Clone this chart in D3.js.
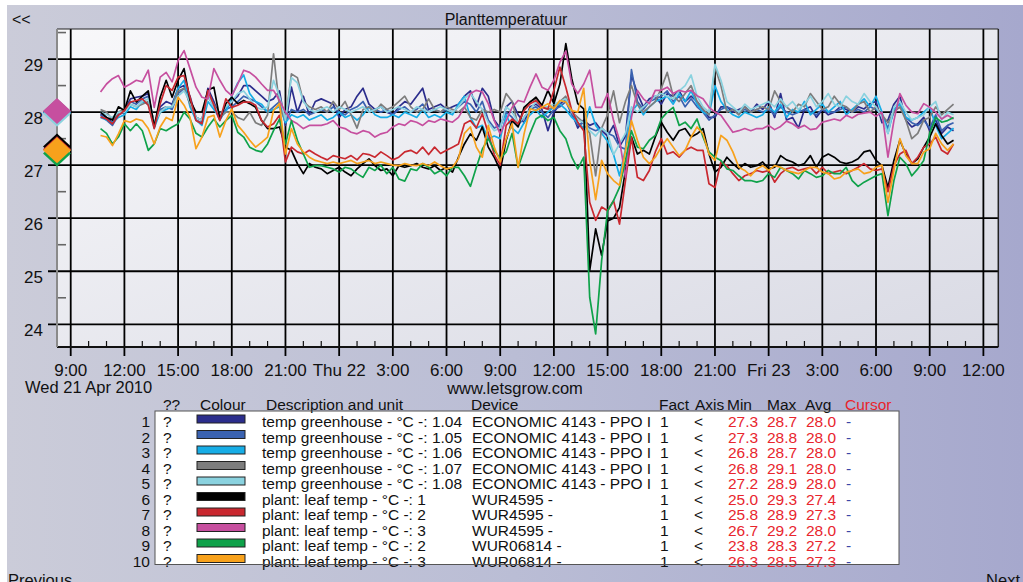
<!DOCTYPE html>
<html><head><meta charset="utf-8">
<script src="https://cdn.jsdelivr.net/npm/d3@7"></script>
<style>
html,body{margin:0;padding:0;background:#fff;overflow:hidden}
svg text{font-family:"Liberation Sans",Arial,Helvetica,sans-serif}
</style>
</head><body>
<svg id="c" width="1023" height="582"></svg>
<script>
// ---------- DATA ----------
const chartTitle = "Planttemperatuur";
const siteLabel = "www.letsgrow.com";
const dateLabel = "Wed 21 Apr 2010";
const startTime = new Date(2010, 3, 21, 10, 40); // first sample
const stepMinutes = 20;                           // sample spacing
const xDomain = [new Date(2010, 3, 21, 8, 14), new Date(2010, 3, 23, 12, 50)];
const yDomain = [23.572, 29.567];
const yTicks = [24, 25, 26, 27, 28, 29];
const yMinorTicks = [24.5, 25.5, 26.5, 27.5, 28.5, 29.5];
const xTickLabels = ["9:00","12:00","15:00","18:00","21:00","Thu 22","3:00","6:00","9:00","12:00","15:00","18:00","21:00","Fri 23","3:00","6:00","9:00","12:00"];

const seriesColors = ["#2b2d8c","#3a62b0","#17ade6","#7d7d7d","#8ad2df","#000000","#c9282f","#c64f9f","#0fa24a","#f7a11c"];
const seriesDesc = ["temp greenhouse - °C -: 1.04","temp greenhouse - °C -: 1.05","temp greenhouse - °C -: 1.06","temp greenhouse - °C -: 1.07","temp greenhouse - °C -: 1.08","plant: leaf temp - °C -: 1","plant: leaf temp - °C -: 2","plant: leaf temp - °C -: 3","plant: leaf temp - °C -: 2","plant: leaf temp - °C -: 3"];
const seriesDevice = ["ECONOMIC 4143 - PPO I","ECONOMIC 4143 - PPO I","ECONOMIC 4143 - PPO I","ECONOMIC 4143 - PPO I","ECONOMIC 4143 - PPO I","WUR4595 -","WUR4595 -","WUR4595 -","WUR06814 -","WUR06814 -"];
const seriesFact = [1,1,1,1,1,1,1,1,1,1];
const minVals = [27.3,27.3,26.8,26.8,27.2,25.0,25.8,26.7,23.8,26.3];
const maxVals = [28.7,28.8,28.7,29.1,28.9,29.3,28.9,29.2,28.3,28.5];
const avgVals = [28.0,28.0,28.0,28.0,28.0,27.4,27.3,28.0,27.2,27.3];
const avgMarkers = [28.0,28.0,27.99,28.01,27.97,27.35,27.3,28.02,27.22,27.28];

const s1 = [27.97,27.9,27.8,28.0,28.03,28.25,28.28,28.3,28.35,27.75,28.1,28.2,28.15,28.45,28.5,28.3,27.9,27.85,28.45,28.2,27.9,28.05,28.2,28.3,28.5,28.5,28.4,28.3,28.2,28.25,28.4,27.75,28.47,28.0,28.3,27.95,28.2,
28.25,28.2,28.15,27.9,28.05,28.1,28.3,28.45,28.15,28.05,28.1,28.0,27.95,28.1,28.2,28.15,28.3,28.45,28.05,28.1,28.15,28.05,28.1,28.15,28.3,28.4,28.1,28.45,28.3,27.85,27.7,28.1,28.2,27.95,27.8,28.1,28.15,28.05,
27.65,28.0,28.15,28.25,28.0,27.7,27.85,27.75,27.8,27.65,27.55,27.75,27.35,27.55,28.7,28.35,28.1,28.25,28.3,28.15,28.35,28.3,28.4,28.2,28.3,28.2,28.05,27.9,27.9,28.1,28.1,28.0,28.05,28.1,28.0,28.15,
28.05,28.2,27.9,28.35,27.85,27.9,27.7,28.05,28.1,27.9,28.05,27.95,28.0,28.1,28.05,28.0,28.1,28.06,28.16,28.2,27.8,27.85,28.15,28.3,27.85,27.72,27.78,27.9,27.65,27.85,27.6,27.72,27.65];
const s2 = [27.95,27.85,27.75,27.95,28.0,28.2,28.15,28.25,28.3,27.75,28.05,28.1,28.05,28.35,28.45,28.2,27.85,27.8,28.3,28.1,27.85,28.05,28.1,28.2,28.3,28.25,28.2,28.1,28.0,28.1,28.2,27.8,28.05,28.0,28.05,27.95,28.0,
28.05,28.0,28.1,28.0,27.95,28.05,28.1,28.2,28.0,28.05,28.0,28.05,27.95,28.05,28.1,28.0,28.05,28.15,28.0,28.05,28.0,28.05,28.0,28.1,28.2,28.15,28.0,28.2,27.85,27.7,27.75,28.0,27.9,27.75,27.9,28.05,28.1,28.0,
27.9,28.05,28.1,28.2,27.95,27.75,27.8,27.7,27.65,27.7,27.6,27.55,27.35,27.3,28.8,28.2,28.05,28.2,28.25,28.3,28.4,28.2,28.3,28.1,28.25,28.1,28.0,27.85,27.95,28.05,28.1,28.05,28.0,28.05,28.0,28.05,
28.0,28.05,27.95,28.1,28.0,27.95,28.0,28.05,28.0,27.95,28.05,28.0,28.0,28.05,28.1,28.0,28.05,28.0,28.1,28.05,27.95,27.7,28.0,28.2,27.9,27.8,27.75,27.85,27.7,27.95,27.65,27.75,27.8];
const s3 = [27.9,27.85,27.8,27.9,27.95,28.1,28.05,28.2,28.15,27.7,28.0,28.05,28.1,28.45,28.6,28.1,27.85,27.75,28.2,28.05,27.9,28.0,28.3,28.55,28.7,28.35,28.2,28.15,28.0,28.05,28.1,27.8,27.95,27.9,27.95,27.85,27.9,
27.95,27.85,27.9,28.0,27.9,27.95,27.85,27.95,28.1,27.95,27.9,27.9,27.95,27.9,28.0,27.95,27.9,28.05,27.9,27.95,27.9,28.0,27.95,28.15,28.3,27.9,27.7,27.75,27.5,27.55,27.5,27.95,27.7,27.6,27.8,27.95,28.05,27.9,
28.0,28.1,28.15,28.05,27.9,27.8,27.7,28.1,27.75,27.6,27.45,27.2,26.8,27.3,28.0,28.15,27.95,28.1,28.2,28.25,28.3,28.15,28.35,28.2,28.4,28.15,28.0,27.95,28.5,28.2,28.05,27.95,27.9,28.0,27.95,27.9,
27.95,28.1,28.0,28.15,27.9,28.05,28.0,28.2,27.95,28.05,28.15,28.0,28.1,28.2,27.95,28.05,28.15,28.25,28.1,28.3,28.0,27.6,28.05,28.15,27.9,27.85,27.9,28.0,28.1,27.75,27.5,27.6,27.7];
const s4 = [28.05,28.0,27.85,28.0,28.05,28.15,28.1,28.15,28.2,27.8,28.0,28.1,28.1,28.4,28.45,28.15,27.9,27.85,28.3,28.15,27.9,28.0,28.0,27.9,27.85,28.0,27.8,27.75,27.95,29.1,28.1,27.85,28.72,28.65,28.2,28.1,28.05,
28.1,28.0,28.2,28.05,28.2,27.95,27.7,28.05,28.1,28.0,28.15,28.05,28.1,28.2,28.3,28.1,28.0,28.05,28.25,28.05,28.0,28.1,28.05,28.0,28.1,27.9,27.85,28.05,28.0,28.05,28.0,28.35,28.2,27.75,28.05,28.2,28.25,28.1,
28.05,28.1,28.2,28.3,28.0,27.9,27.8,27.6,26.8,27.7,27.95,28.4,27.8,28.2,28.5,28.15,28.0,28.1,28.2,28.45,28.75,28.3,28.2,28.35,28.5,28.2,28.05,27.95,28.85,28.5,28.0,28.05,27.95,28.1,28.0,28.05,
28.1,28.05,28.4,28.2,28.1,28.0,28.15,28.1,28.35,28.2,28.05,28.1,28.3,28.15,28.1,28.0,28.15,28.2,28.0,28.1,27.95,27.8,28.0,28.1,27.85,27.5,27.6,27.85,27.9,28.1,27.95,28.05,28.15];
const s5 = [28.0,27.95,27.9,28.0,28.0,28.15,28.1,28.2,28.25,27.8,28.0,28.1,28.1,28.3,28.4,28.2,27.9,27.85,28.3,28.1,27.95,28.1,28.2,28.35,28.4,28.25,28.1,28.05,28.1,28.6,28.3,27.85,28.65,28.55,28.2,28.05,28.0,
28.05,28.1,28.0,28.1,28.05,28.0,28.05,28.1,28.0,28.05,28.1,28.0,28.05,28.1,28.05,28.0,28.1,28.05,28.0,28.05,28.1,28.05,28.0,28.1,28.25,28.35,28.2,28.05,27.8,27.65,27.7,28.1,28.0,27.8,27.9,28.05,28.2,28.1,
28.1,28.15,28.2,28.25,28.0,27.85,27.8,27.65,27.55,27.7,27.6,27.2,27.4,27.6,28.1,28.0,28.1,28.2,28.3,28.35,28.3,28.25,28.4,28.5,28.7,28.3,28.1,28.0,28.9,28.6,28.2,28.1,28.0,28.15,28.05,28.1,
28.15,28.2,28.1,28.25,28.1,28.2,28.05,28.15,28.3,28.1,28.2,28.35,28.15,28.1,28.3,28.2,28.15,28.35,28.2,28.1,27.9,27.6,28.1,28.2,28.0,27.85,27.9,27.95,28.1,28.2,27.85,28.0,27.95];
const s6 = [28.0,27.9,27.85,28.1,28.03,28.4,28.19,28.3,28.4,27.72,28.28,28.6,28.28,28.6,28.82,28.22,28.0,28.0,28.41,28.47,27.87,28.16,28.28,28.16,28.22,28.16,28.09,27.84,27.69,27.69,27.72,27.34,27.28,27.03,26.84,27.03,26.96,
26.93,26.84,26.9,26.96,26.87,26.8,26.93,27.03,27.12,26.99,26.9,26.93,26.8,26.99,26.96,26.99,27.03,26.96,26.93,26.99,26.9,26.96,26.87,27.15,27.4,27.59,27.47,27.72,27.34,27.15,26.9,27.47,27.84,27.72,28.09,28.19,28.28,28.13,
28.41,28.16,28.53,29.29,28.63,28.16,28.06,25.01,25.8,25.3,25.95,26.0,26.2,26.9,27.53,27.21,27.28,27.21,27.53,27.81,27.62,27.47,27.65,27.69,27.53,27.59,27.69,27.21,26.87,26.96,27.15,27.03,26.93,27.03,26.96,26.99,
27.06,26.93,26.96,27.18,27.1,27.06,26.99,27.03,27.18,26.96,27.15,27.21,27.15,27.06,27.03,27.06,27.12,27.25,27.28,27.09,26.99,26.58,27.09,27.47,27.21,27.03,27.12,27.34,27.53,27.78,27.56,27.4,27.47];
const s7 = [27.91,27.87,27.78,27.94,28.03,28.19,28.22,28.25,28.13,27.69,28.16,28.5,28.41,28.66,28.69,28.28,27.84,27.78,28.41,28.13,27.84,28.25,28.09,28.13,28.19,28.19,28.13,27.84,27.72,27.78,27.94,27.06,27.34,27.25,27.21,27.28,27.21,
27.15,27.1,27.18,27.15,27.12,27.18,27.1,27.22,27.2,27.15,27.25,27.18,27.1,27.15,27.25,27.28,27.22,27.34,27.2,27.34,27.22,27.28,27.34,27.4,27.78,27.84,27.7,27.97,27.6,27.2,27.0,27.75,27.87,27.78,28.03,28.16,28.22,28.09,
28.06,28.41,28.85,28.47,28.03,27.81,27.65,26.3,25.96,26.21,26.14,26.33,25.89,26.71,27.53,26.77,26.71,26.9,27.25,27.5,27.21,27.25,27.15,27.28,27.34,27.28,27.28,26.65,26.58,27.06,26.99,26.84,26.71,26.8,26.84,26.9,
26.87,26.9,26.68,26.84,26.93,26.96,26.9,26.93,26.96,26.84,26.96,26.84,26.87,26.9,26.84,26.9,26.96,27.03,26.93,26.9,26.93,26.5,26.99,27.21,27.28,27.03,27.15,27.34,27.4,27.53,27.28,27.21,27.4];
const s8 = [28.38,28.53,28.63,28.69,28.47,28.53,28.6,28.57,28.79,28.09,28.66,28.75,28.57,28.97,29.16,28.82,28.47,28.28,28.25,28.82,28.6,28.41,28.31,28.53,28.79,28.75,28.66,28.53,28.41,28.41,28.22,28.0,27.84,27.78,27.69,27.75,27.75,
27.75,27.78,27.84,27.72,27.69,27.62,27.59,27.65,27.62,27.53,27.59,27.62,27.72,27.78,27.75,27.84,27.81,27.75,27.84,27.81,27.87,27.84,27.81,27.9,28.09,28.35,28.41,28.38,28.16,27.84,27.59,27.84,28.09,28.22,28.19,28.47,28.72,28.47,
28.41,28.6,28.94,29.15,28.53,28.35,28.53,28.79,28.09,28.09,28.35,27.84,27.47,26.77,27.9,28.41,28.25,28.16,28.41,28.41,28.47,28.35,28.41,28.38,28.41,28.31,28.25,28.09,28.0,27.94,27.78,27.62,27.65,27.69,27.65,27.69,
27.69,27.75,27.67,27.73,27.83,27.78,27.7,27.75,27.67,27.69,27.81,27.84,27.87,27.84,27.94,27.89,27.96,27.98,28.0,27.92,28.0,27.15,27.84,28.35,28.13,28.0,27.97,28.16,28.09,28.0,27.87,27.94,27.87];
const s9 = [27.69,27.6,27.4,27.53,27.78,27.65,27.78,27.65,27.28,27.4,27.69,27.65,27.72,27.78,28.0,27.87,27.6,27.53,27.72,27.87,27.72,27.84,27.94,27.62,27.53,27.34,27.28,27.25,27.4,27.65,27.87,27.4,27.84,27.47,27.21,26.96,26.99,
26.99,26.96,26.93,26.87,26.96,26.93,26.84,26.77,26.96,26.9,27.0,26.84,26.96,26.74,26.7,26.93,26.9,27.03,26.96,26.84,26.9,26.8,26.96,26.96,26.8,26.6,26.96,27.3,27.5,27.28,27.12,27.25,27.6,26.96,27.28,27.6,27.87,27.94,
27.84,27.9,27.65,27.5,27.15,26.93,27.15,24.51,23.82,25.2,26.14,26.33,26.58,27.09,27.65,27.34,27.31,27.47,27.56,27.87,28.0,28.09,27.75,27.81,27.69,27.87,27.53,27.25,27.15,27.09,26.93,26.9,26.8,26.71,26.71,26.68,
26.71,26.84,26.77,26.96,26.9,26.84,26.74,26.9,26.84,26.77,26.8,26.9,26.84,26.84,26.96,26.71,26.6,26.68,26.74,26.8,26.84,26.05,26.71,27.15,27.03,26.8,26.93,27.09,27.6,27.9,27.81,27.84,27.9];
const s10 = [27.56,27.53,27.37,27.59,27.84,27.81,27.87,27.84,27.69,27.4,27.72,27.9,27.84,28.28,28.13,27.9,27.31,27.53,27.9,27.94,27.53,27.84,28.06,27.75,27.62,27.47,27.34,27.43,27.53,28.03,28.16,27.21,27.69,27.4,27.25,27.15,27.09,
27.06,27.03,27.06,27.03,27.06,27.09,27.03,27.06,27.09,27.03,27.06,27.03,27.0,26.99,27.03,27.0,26.99,27.03,26.99,27.06,26.99,26.93,26.96,27.12,27.6,27.72,27.34,27.15,27.75,27.34,27.06,27.5,27.78,26.96,27.59,28.06,28.03,28.09,
28.16,28.06,28.22,28.19,28.03,28.0,28.45,27.09,26.35,27.09,26.84,26.71,26.62,27.28,27.84,27.47,27.15,27.03,27.15,27.34,27.5,27.34,27.18,27.28,27.53,27.72,27.59,27.21,27.09,27.56,27.47,27.25,26.96,26.9,26.8,26.93,
26.99,26.9,26.99,26.96,26.9,26.87,26.84,26.9,26.96,26.96,26.87,26.84,26.74,26.77,26.87,26.9,26.93,26.84,26.87,26.96,27.0,26.3,26.9,27.5,27.18,27.03,27.03,27.25,27.31,27.6,27.4,27.28,27.4];
const allSeries = [s1, s2, s3, s4, s5, s6, s7, s8, s9, s10];

// ---------- LAYOUT ----------
const W = 1023, H = 582;
const plot = {left: 57, top: 29, right: 998.3, bottom: 347};

const svg = d3.select("#c");
const defs = svg.append("defs");

const bgGrad = defs.append("linearGradient").attr("id","bg").attr("x1","0").attr("x2","1").attr("y1","0").attr("y2","0");
bgGrad.append("stop").attr("offset","0").attr("stop-color","#cbccd9");
bgGrad.append("stop").attr("offset","0.5").attr("stop-color","#babdd5");
bgGrad.append("stop").attr("offset","1").attr("stop-color","#a6a8cd");

const plotGrad = defs.append("linearGradient").attr("id","pg").attr("x1","0").attr("x2","1").attr("y1","0").attr("y2","1");
plotGrad.append("stop").attr("offset","0").attr("stop-color","#f8f8fa");
plotGrad.append("stop").attr("offset","1").attr("stop-color","#d9dae4");

defs.append("clipPath").attr("id","clip").append("rect")
  .attr("x", plot.left).attr("y", plot.top)
  .attr("width", plot.right - plot.left).attr("height", plot.bottom - plot.top);

svg.append("rect").attr("x",7).attr("y",5).attr("width",W-7).attr("height",H-5).attr("fill","url(#bg)");
svg.append("rect").attr("x",plot.left).attr("y",plot.top)
  .attr("width",plot.right-plot.left).attr("height",plot.bottom-plot.top).attr("fill","url(#pg)");

const x = d3.scaleTime().domain(xDomain).range([plot.left, plot.right]);
const y = d3.scaleLinear().domain(yDomain).range([plot.bottom, plot.top]);

const majorTimes = d3.timeHour.every(3).range(new Date(2010,3,21,9,0), new Date(2010,3,23,12,1));
const minorTimes = d3.timeHour.every(1).range(new Date(2010,3,21,9,0), new Date(2010,3,23,13,0))
  .filter(t => t.getHours() % 3 !== 0 && x(t) < plot.right);

// horizontal grid
svg.append("g").selectAll("line").data(yTicks).join("line")
  .attr("x1", plot.left - 9).attr("x2", plot.right)
  .attr("y1", d => y(d)).attr("y2", d => y(d))
  .attr("stroke","#000").attr("stroke-width",1.8);

// vertical grid
svg.append("g").selectAll("line").data(majorTimes).join("line")
  .attr("x1", d => x(d)).attr("x2", d => x(d))
  .attr("y1", plot.top).attr("y2", plot.bottom + 9)
  .attr("stroke","#000").attr("stroke-width",1.8);

// minor hour ticks
svg.append("g").selectAll("line").data(minorTimes).join("line")
  .attr("x1", d => x(d)).attr("x2", d => x(d))
  .attr("y1", plot.bottom - 6).attr("y2", plot.bottom)
  .attr("stroke","#111").attr("stroke-width",1.2);

// minor y ticks
svg.append("g").selectAll("line").data(yMinorTicks).join("line")
  .attr("x1", plot.left).attr("x2", plot.left + 9)
  .attr("y1", d => y(d)).attr("y2", d => y(d))
  .attr("stroke","#666").attr("stroke-width",1.6);

// series lines
const line = d3.line()
  .x((d, i) => x(d3.timeMinute.offset(startTime, i * stepMinutes)))
  .y(d => y(d));
const lg = svg.append("g").attr("clip-path","url(#clip)");
allSeries.forEach((s, k) => {
  lg.append("path").datum(s).attr("d", line)
    .attr("fill","none").attr("stroke", seriesColors[k])
    .attr("stroke-width",1.7).attr("stroke-linejoin","round");
});

// plot borders
svg.append("line").attr("x1",plot.left).attr("x2",plot.right).attr("y1",plot.top).attr("y2",plot.top).attr("stroke","#222").attr("stroke-width",1);
svg.append("line").attr("x1",plot.right).attr("x2",plot.right).attr("y1",plot.top).attr("y2",plot.bottom).attr("stroke","#222").attr("stroke-width",1.5);
svg.append("line").attr("x1",plot.left).attr("x2",plot.right).attr("y1",plot.bottom).attr("y2",plot.bottom).attr("stroke","#111").attr("stroke-width",2);
svg.append("line").attr("x1",plot.left).attr("x2",plot.left).attr("y1",plot.top).attr("y2",plot.bottom).attr("stroke","#8a8a8a").attr("stroke-width",2);

// average diamonds
avgMarkers.forEach((v, k) => {
  const cy = y(v), cx = plot.left;
  svg.append("path")
    .attr("d", `M${cx},${cy-13}L${cx+14},${cy}L${cx},${cy+13}L${cx-14},${cy}Z`)
    .attr("fill", seriesColors[k]);
});

// y labels
svg.append("g").selectAll("text").data(yTicks).join("text")
  .attr("x", 43).attr("y", d => y(d) + 12)
  .attr("text-anchor","end").attr("font-size","17px").attr("fill","#111")
  .text(d => d);

// x labels
svg.append("g").selectAll("text").data(majorTimes).join("text")
  .attr("x", d => x(d)).attr("y", 376)
  .attr("text-anchor","middle").attr("font-size","17px").attr("fill","#111")
  .text((d, i) => xTickLabels[i]);

svg.append("text").attr("x",25).attr("y",393).attr("font-size","16.5px").attr("fill","#111").text(dateLabel);
svg.append("text").attr("x",515).attr("y",394).attr("text-anchor","middle").attr("font-size","16.5px").attr("fill","#111").text(siteLabel);
svg.append("text").attr("x",506).attr("y",25).attr("text-anchor","middle").attr("font-size","16px").attr("fill","#111").text(chartTitle);
svg.append("text").attr("x",12).attr("y",25).attr("font-size","16px").attr("fill","#111").text("<<");
svg.append("text").attr("x",8).attr("y",586).attr("font-size","16.5px").attr("fill","#111").text("Previous");
svg.append("text").attr("x",1020).attr("y",586).attr("text-anchor","end").attr("font-size","16.5px").attr("fill","#111").text("Next");

// ---------- LEGEND TABLE ----------
const tbl = {left:155, top:411, right:899, bottom:564.5};
svg.append("rect").attr("x",tbl.left).attr("y",tbl.top).attr("width",tbl.right-tbl.left).attr("height",tbl.bottom-tbl.top).attr("fill","#fff");

const fs = "15.5px";
const headers = [
  {t:"??", x:163, c:"#111"}, {t:"Colour", x:200, c:"#111"}, {t:"Description and unit", x:266, c:"#111"},
  {t:"Device", x:471, c:"#111"}, {t:"Fact", x:659, c:"#111"}, {t:"Axis", x:695, c:"#111"},
  {t:"Min", x:727, c:"#111"}, {t:"Max", x:767, c:"#111"}, {t:"Avg", x:805, c:"#111"}, {t:"Cursor", x:845, c:"#e8252d"}
];
svg.append("g").selectAll("text").data(headers).join("text")
  .attr("x", d => d.x).attr("y", 410).attr("font-size", fs).attr("fill", d => d.c).text(d => d.t);

const rowG = svg.append("g");
seriesColors.forEach((col, k) => {
  const by = 427 + 15.5 * k;
  rowG.append("text").attr("x",150).attr("y",by).attr("text-anchor","end").attr("font-size",fs).attr("fill","#111").text(k+1);
  rowG.append("text").attr("x",163).attr("y",by).attr("font-size",fs).attr("fill","#111").text("?");
  rowG.append("rect").attr("x",197).attr("y",by-12).attr("width",48).attr("height",8)
    .attr("fill",col).attr("stroke","#222").attr("stroke-width",1);
  rowG.append("text").attr("x",262).attr("y",by).attr("font-size",fs).attr("fill","#111").text(seriesDesc[k]);
  rowG.append("text").attr("x",472).attr("y",by).attr("font-size",fs).attr("fill","#111").text(seriesDevice[k]);
  rowG.append("text").attr("x",660).attr("y",by).attr("font-size",fs).attr("fill","#111").text(seriesFact[k]);
  rowG.append("text").attr("x",694).attr("y",by).attr("font-size",fs).attr("fill","#111").text("<");
  rowG.append("text").attr("x",728).attr("y",by).attr("font-size",fs).attr("fill","#e8252d").text(minVals[k].toFixed(1));
  rowG.append("text").attr("x",767).attr("y",by).attr("font-size",fs).attr("fill","#e8252d").text(maxVals[k].toFixed(1));
  rowG.append("text").attr("x",806).attr("y",by).attr("font-size",fs).attr("fill","#e8252d").text(avgVals[k].toFixed(1));
  rowG.append("text").attr("x",846).attr("y",by).attr("font-size",fs).attr("fill","#3b46a8").text("-");
});
svg.append("rect").attr("x",tbl.left).attr("y",tbl.top).attr("width",tbl.right-tbl.left).attr("height",tbl.bottom-tbl.top)
  .attr("fill","none").attr("stroke","#555").attr("stroke-width",1);
</script>
</body></html>
